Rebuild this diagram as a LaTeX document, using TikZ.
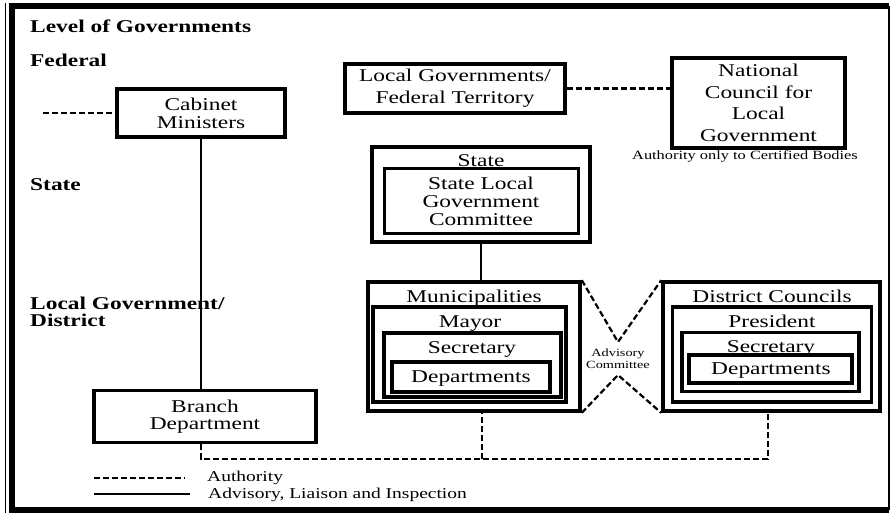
\documentclass[tikz,border=0pt]{standalone}
\usepackage{fontspec}
\setmainfont{Liberation Serif}[FakeStretch=1.3]
\begin{document}
\begin{tikzpicture}[x=1pt,y=-1pt,
  box/.style={draw, line width=3.2pt, inner sep=0pt, align=center},
  lbl/.style={inner sep=0pt, font=\bfseries\fontsize{18}{17}\selectfont, anchor=base west, align=left},
  txt/.style={inner sep=0pt, font=\fontsize{18}{21}\selectfont, anchor=base},
  auth/.style={line width=2.2pt, dash pattern=on 6pt off 3pt},
  liaison/.style={line width=1.3pt},
]
\useasboundingbox (0,0) rectangle (892,513);

% outer frame
\draw[line width=5.5pt] (889,6) -- (12,6) -- (12,510) -- (889,510);
\draw[line width=1.2pt] (889,6) -- (889,510);
\draw[line width=1pt] (5,3) -- (5,513);

% level captions
\node[lbl] (lev) at (30,33) {Level of Governments};
\node[lbl] (fed) at (30,67) {Federal};
\node[lbl] (sta) at (30,191) {State};
\node[lbl] (lgd) at (30,326) {Local Government/\\District};

% federal level
\node[box, minimum width=168, minimum height=48, font=\fontsize{18}{18}\selectfont] (cab) at (201,113) {Cabinet\\Ministers};
\coordinate (cabtail) at (43,113);
\draw[auth] (cabtail) -- (cab.west);

\node[box, minimum width=220, minimum height=49, font=\fontsize{18}{22}\selectfont] (lgft) at (455,88.5) {Local Governments/\\Federal Territory};
\node[box, minimum width=173, minimum height=90, font=\fontsize{18}{21.5}\selectfont] (ncl) at (758.5,103) {National\\Council for\\Local\\Government};
\draw[auth] (lgft.east) -- (lgft.east -| ncl.west);
\node[txt, font=\fontsize{12.6}{15}\selectfont] (cert) at (745,160) {Authority only to Certified Bodies};

% state level
\node[box, line width=3.6pt, minimum width=218, minimum height=95] (stout) at (481,194.5) {};
\node[txt] (sttl) at (481,167) {State};
\node[box, line width=3pt, minimum width=194, minimum height=65, font=\fontsize{18}{18}\selectfont] (slgc) at (481,201.5) {State Local\\Government\\Committee};

% municipalities
\node[box, line width=3.6pt, minimum width=212, minimum height=129] (mun) at (474,346.5) {};
\node[txt] (munt) at (474,302) {Municipalities};
\node[box, minimum width=193, minimum height=95] (may) at (469.5,354.5) {};
\node[txt] (mayt) at (470,327) {Mayor};
\node[box, minimum width=177, minimum height=64] (msec) at (472.5,365) {};
\node[txt] (msect) at (472,353) {Secretary};
\node[box, minimum width=158, minimum height=30] (mdep) at (471,377) {};
\node[txt] (mdept) at (471,382) {Departments};

% district councils
\node[box, line width=3.6pt, minimum width=217, minimum height=129] (dis) at (771.5,346.5) {};
\node[txt] (dist) at (772,302) {District Councils};
\node[box, minimum width=199, minimum height=95] (pre) at (772,354.5) {};
\node[txt] (pret) at (772,327) {President};
\node[box, minimum width=177, minimum height=59] (dsec) at (770.5,362) {};
\node[txt] (dsect) at (771,352) {Secretary};
\node[box, minimum width=163, minimum height=28] (ddep) at (770.5,369) {};
\node[txt] (ddept) at (771,374) {Departments};

\draw[liaison] (stout.south) -- (stout.south |- mun.north);

% advisory committee between the two councils
\coordinate (advtop) at (618,342);
\coordinate (advbot) at (618,375);
\draw[auth] (mun.north east) -- (advtop) -- (dis.north west);
\draw[auth] (mun.south east) -- (advbot) -- (dis.south west);
\node[font=\fontsize{11}{12}\selectfont, align=center, inner sep=0pt] (adv) at (618,359) {Advisory\\Committee};

% branch department
\node[box, minimum width=222, minimum height=52, font=\fontsize{18}{17.5}\selectfont] (br) at (205,416.5) {Branch\\Department};
\draw[liaison] (cab.south) -- (cab.south |- br.north);

\coordinate (busl) at (201,459);
\coordinate (busm) at (482,459);
\coordinate (busr) at (768,459);
\draw[auth] (busl |- br.south) -- (busl) -- (busr) -- (busr |- dis.south);
\draw[auth] (busm) -- (busm |- mun.south);

% legend
\coordinate (la1) at (94,478);
\coordinate (la2) at (185,478);
\coordinate (lb1) at (94,494);
\coordinate (lb2) at (190,494);
\draw[auth] (la1) -- (la2);
\draw[liaison] (lb1) -- (lb2);
\node[font=\fontsize{15}{17}\selectfont, anchor=base west, inner sep=0pt] (lega) at (207,481) {Authority};
\node[font=\fontsize{15}{17}\selectfont, anchor=base west, inner sep=0pt] (legb) at (208,498) {Advisory, Liaison and Inspection};
\end{tikzpicture}
\end{document}
